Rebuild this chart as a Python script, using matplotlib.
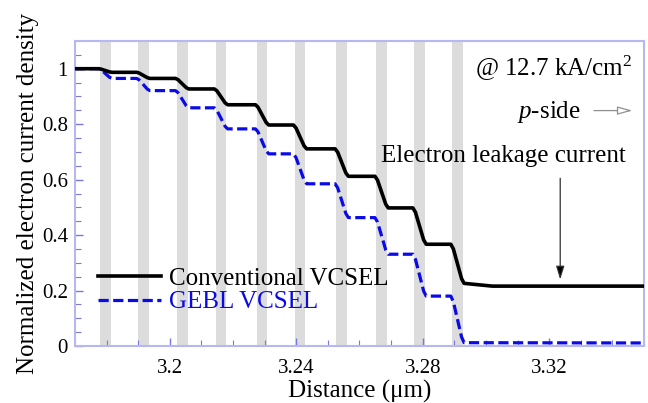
import matplotlib

matplotlib.use("Agg")
import matplotlib.pyplot as plt
from matplotlib.ticker import MultipleLocator, FixedLocator, FixedFormatter

plt.rcParams["font.family"] = ["Liberation Serif", "DejaVu Serif"]
plt.rcParams["mathtext.fontset"] = "custom"
plt.rcParams["mathtext.rm"] = "Liberation Serif"
plt.rcParams["mathtext.it"] = "Liberation Serif:italic"

# quantum well / barrier band positions (um), start of each gray stripe
band_starts = [3.1779, 3.1899, 3.2022, 3.2145, 3.2275, 3.2395, 3.2527, 3.2653, 3.2773, 3.2893]
band_width = 0.0034

# normalized level before first band and after each band
conv_levels = [1.0, 0.987, 0.965, 0.927, 0.870, 0.797, 0.711, 0.612, 0.498, 0.367, 0.226]
gebl_levels = [1.0, 0.965, 0.921, 0.859, 0.783, 0.693, 0.585, 0.463, 0.331, 0.180, 0.012]
conv_tail_x = [3.302, 3.35]
conv_tail_y = [0.216, 0.216]
gebl_tail_x = [3.35]
gebl_tail_y = [0.011]

x_min, x_max = 3.17, 3.35


def step_path(levels, tail_x, tail_y):
    xs = [x_min]
    ys = [levels[0]]
    for i, b in enumerate(band_starts):
        xs += [b - 0.0004, b + 0.0004, b + band_width - 0.0004, b + band_width + 0.0004]
        d = levels[i] - levels[i + 1]
        ys += [levels[i], levels[i] - 0.12 * d, levels[i + 1] + 0.12 * d, levels[i + 1]]
    xs += tail_x
    ys += tail_y
    return xs, ys


fig = plt.figure(figsize=(6.48, 4.03), dpi=100)
ax = fig.add_axes([0.1157, 0.1414, 0.8781, 0.7569])

for b in band_starts:
    ax.axvspan(b, b + band_width, color="#dcdcdc", lw=0, zorder=0)

cx, cy = step_path(conv_levels, conv_tail_x, conv_tail_y)
gx, gy = step_path(gebl_levels, gebl_tail_x, gebl_tail_y)
ax.plot(cx, cy, color="black", lw=2.6, label="Conventional VCSEL", zorder=3)
ax.plot(gx, gy, color="#0a0ae6", lw=2.3, ls=(0, (3.2, 1.4)), label="GEBL VCSEL", zorder=2)

ax.set_xlim(x_min, x_max)
ax.set_ylim(0, 1.1)
ax.xaxis.set_major_locator(FixedLocator([3.2, 3.24, 3.28, 3.32]))
ax.xaxis.set_major_formatter(FixedFormatter(["3.2", "3.24", "3.28", "3.32"]))
ax.xaxis.set_minor_locator(MultipleLocator(0.01))
ax.yaxis.set_major_locator(FixedLocator([0, 0.2, 0.4, 0.6, 0.8, 1.0]))
ax.yaxis.set_major_formatter(FixedFormatter(["0", "0.2", "0.4", "0.6", "0.8", "1"]))
ax.yaxis.set_minor_locator(MultipleLocator(0.05))

spine_col = "#b8b8f0"
for s in ax.spines.values():
    s.set_color(spine_col)
    s.set_linewidth(1.5)
ax.tick_params(which="both", direction="in", color="#7878e0", labelsize=15)
ax.tick_params(which="major", length=6, width=1.0)
ax.tick_params(which="minor", length=4, width=0.8)
ax.tick_params(axis="x", pad=9.5)
ax.tick_params(axis="y", pad=5)
ax.tick_params(axis="x", which="both", bottom=True, top=False)
ax.tick_params(axis="y", which="both", left=True, right=False)

ax.set_xlabel("Distance (\u03bcm)", fontsize=18, labelpad=1.5)
ax.set_ylabel("Normalized electron current density", fontsize=18, labelpad=2)

leg = ax.legend(loc="lower left", bbox_to_anchor=(0.04, 0.107), frameon=False, fontsize=18,
                handlelength=2.55, handletextpad=0.3, labelspacing=0.05, borderaxespad=0,
                borderpad=0)
leg.get_texts()[1].set_color("#0a0ae6")

ax.text(3.3462, 1.0, "@ 12.7 kA/cm$^2$", fontsize=18, ha="right", va="center")
ax.text(3.3301, 0.845, "$\\it{p}$-side", fontsize=18, ha="right", va="center")
ax.annotate("", xy=(3.3472, 0.849), xytext=(3.3333, 0.849),
            arrowprops=dict(arrowstyle="-|>,head_width=0.25,head_length=0.9", fc="white", ec="#909090", lw=0.9))
ax.text(3.3054, 0.687, "Electron leakage current", fontsize=18, ha="center", va="center")
ax.annotate("", xy=(3.3235, 0.23), xytext=(3.3235, 0.615),
            arrowprops=dict(arrowstyle="-|>,head_width=0.25,head_length=0.8", fc="black", ec="#303030", lw=0.9))

fig.savefig("out.png", dpi=100)
